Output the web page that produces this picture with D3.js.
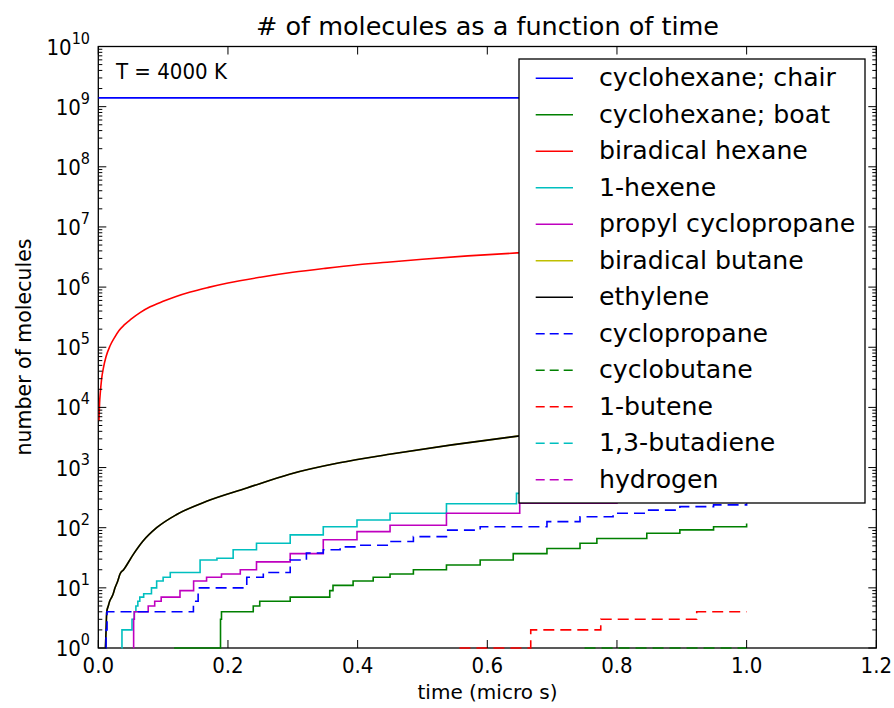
<!DOCTYPE html>
<html><head><meta charset="utf-8">
<script src="https://cdn.jsdelivr.net/npm/d3@7"></script>
<style>
html,body{margin:0;padding:0;background:#fff;}
text{font-family:"DejaVu Sans",sans-serif;fill:#000;}
.cond{font-family:"DejaVu Sans Condensed","DejaVu Sans",sans-serif;font-stretch:condensed;}
</style></head><body>
<svg id="chart" width="894" height="708"></svg>
<script>
// ---------------- data ----------------
const chartTitle = "# of molecules as a function of time";
const xLabel = "time (micro s)";
const yLabel = "number of molecules";
const annotation = "T = 4000 K";
const xTickValues = [0.0, 0.2, 0.4, 0.6, 0.8, 1.0, 1.2];
const yExponents = [0,1,2,3,4,5,6,7,8,9,10];

const seriesNames = ["cyclohexane; chair","cyclohexane; boat","biradical hexane","1-hexene",
  "propyl cyclopropane","biradical butane","ethylene","cyclopropane","cyclobutane",
  "1-butene","1,3-butadiene","hydrogen"];
const seriesColors = ["#0000ff","#008000","#ff0000","#00bfbf","#bf00bf","#bfbf00","#000000",
  "#0000ff","#008000","#ff0000","#00bfbf","#bf00bf"];
const seriesDashed = [false,false,false,false,false,false,false,true,true,true,true,true];
const seriesStep = [true,true,false,true,true,false,false,true,true,true,true,true];

// [time (micro s), number of molecules]
const chairData = [[0,1.4e9],[1.0,1.4e9]];
const boatData = [[0.117,1],[0.1885,3],[0.19,4],[0.239,5],[0.249,6],[0.296,7],[0.357,9],[0.362,11],
  [0.393,13],[0.424,15],[0.45,17],[0.486,20],[0.537,24],[0.589,29],[0.64,37],[0.692,45],
  [0.743,55],[0.769,66],[0.846,81],[0.897,92],[0.949,104],[1.0,118]];
const biradHexaneData = [[0.001,6000],[0.002,1.2e4],[0.003,1.7e4],[0.005,2.9e4],[0.008,4.6e4],
  [0.012,7e4],[0.018,1.05e5],[0.025,1.45e5],[0.032,1.9e5],[0.04,2.35e5],[0.05,2.9e5],
  [0.065,3.8e5],[0.08,4.7e5],[0.1,5.8e5],[0.12,7e5],[0.142,8.3e5],[0.17,9.9e5],[0.2,1.17e6],
  [0.25,1.46e6],[0.3,1.76e6],[0.35,2.05e6],[0.4,2.35e6],[0.45,2.62e6],[0.5,2.9e6],
  [0.57,3.3e6],[0.646,3.7e6],[0.8,4.6e6],[1.0,5.8e6]];
const hexeneData = [[0.036,1],[0.0365,2],[0.052,3],[0.0555,4],[0.058,5],[0.061,6],[0.064,7],
  [0.07,8],[0.082,10],[0.09,13],[0.1,15],[0.111,18],[0.157,29],[0.183,31],[0.208,43],
  [0.244,55],[0.296,76],[0.347,104],[0.399,134],[0.45,174],[0.537,250],[0.645,372],
  [0.8,560],[1.0,800]];
const propylData = [[0.054,1],[0.0545,3],[0.0555,4],[0.077,5],[0.087,6],[0.097,7],[0.126,9],
  [0.147,13],[0.167,15],[0.19,17],[0.219,20],[0.244,27],[0.296,37],[0.347,63],[0.399,86],
  [0.45,110],[0.537,174],[0.65,255],[0.8,380],[1.0,550]];
const ethyleneData = [[0.011,1],[0.012,2],[0.013,4],[0.0154,5],[0.0175,6],[0.0207,7],[0.023,8],
  [0.0258,10],[0.03,13],[0.0335,17],[0.039,20],[0.054,36],[0.069,60],[0.09,100],[0.121,166],
  [0.167,275],[0.229,457],[0.295,776],[0.372,1200],[0.449,1660],[0.644,3300],[0.8,5000],[1.0,7500]];
const biradButaneData = ethyleneData.map(d => [d[0], d[1]]);
const cyclopropaneData = [[0.0115,1],[0.012,2],[0.0135,4],[0.1467,6],[0.154,10],[0.229,15],
  [0.2545,18],[0.296,29],[0.321,38],[0.347,43],[0.373,48],[0.399,51],[0.45,59],[0.486,71],
  [0.537,91],[0.589,104],[0.64,104],[0.692,126],[0.743,152],[0.794,174],[0.846,196],
  [0.897,224],[0.949,240],[1.0,255]];
const cyclobutaneData = [[0.75,1],[1.0,1]];
const buteneData = [[0.557,1],[0.667,2],[0.775,3],[0.923,4],[1.0,4]];
const butadieneData = [];
const hydrogenData = [];

const allSeries = [chairData,boatData,biradHexaneData,hexeneData,propylData,biradButaneData,
  ethyleneData,cyclopropaneData,cyclobutaneData,buteneData,butadieneData,hydrogenData];

// ---------------- drawing ----------------
const svg = d3.select("#chart");
const L = 98.3, R = 876.3, T = 46.5, B = 648;
const x = d3.scaleLinear().domain([0, 1.2]).range([L, R]);
const y = d3.scaleLog().domain([1, 1e10]).range([B, T]);

svg.append("defs").append("clipPath").attr("id","clip")
  .append("rect").attr("x",L).attr("y",T).attr("width",R-L).attr("height",B-T+1);

// frame
svg.append("rect").attr("x",L).attr("y",T).attr("width",R-L).attr("height",B-T)
  .attr("fill","none").attr("stroke","#000").attr("stroke-width",1.3);

const plot = svg.append("g").attr("clip-path","url(#clip)");
allSeries.forEach((data,i) => {
  if (!data.length) return;
  const line = d3.line().x(d => x(d[0])).y(d => y(d[1]))
    .curve(seriesStep[i] ? d3.curveStepAfter : d3.curveMonotoneX);
  plot.append("path").datum(data).attr("d", line)
    .attr("fill","none").attr("stroke", seriesColors[i]).attr("stroke-width",1.6)
    .attr("stroke-dasharray", seriesDashed[i] ? "11,6" : null);
});

// ticks
const majorY = yExponents.map(e => Math.pow(10, e));
const minorY = [];
yExponents.slice(0,-1).forEach(e => { for (let k=2;k<10;k++) minorY.push(k*Math.pow(10,e)); });
const tg = svg.append("g").attr("stroke","#000").attr("stroke-width",1);
majorY.forEach(v => {
  tg.append("line").attr("x1",L).attr("x2",L+8).attr("y1",y(v)).attr("y2",y(v));
  tg.append("line").attr("x1",R).attr("x2",R-8).attr("y1",y(v)).attr("y2",y(v));
});
minorY.forEach(v => {
  tg.append("line").attr("x1",L).attr("x2",L+4).attr("y1",y(v)).attr("y2",y(v));
  tg.append("line").attr("x1",R).attr("x2",R-4).attr("y1",y(v)).attr("y2",y(v));
});
xTickValues.forEach(v => {
  tg.append("line").attr("x1",x(v)).attr("x2",x(v)).attr("y1",B).attr("y2",B-8);
  tg.append("line").attr("x1",x(v)).attr("x2",x(v)).attr("y1",T).attr("y2",T+8);
});

// tick labels
xTickValues.forEach(v => {
  svg.append("text").attr("class","cond").attr("x",x(v)).attr("y",673)
    .attr("text-anchor","middle").attr("font-size",22).text(v.toFixed(1));
});
yExponents.forEach(e => {
  const t = svg.append("text").attr("class","cond").attr("x",90).attr("y",y(Math.pow(10,e))+8)
    .attr("text-anchor","end").attr("font-size",22);
  t.append("tspan").text("10");
  t.append("tspan").attr("dy",-11).attr("font-size",16).text(String(e));
});

// labels
svg.append("text").attr("x",487.5).attr("y",35).attr("text-anchor","middle")
  .attr("font-size",25.5).text(chartTitle);
svg.append("text").attr("x",487.5).attr("y",699).attr("text-anchor","middle")
  .attr("font-size",20).text(xLabel);
svg.append("text").attr("transform","translate(31,347) rotate(-90)").attr("text-anchor","middle")
  .attr("font-size",20.5).text(yLabel);
svg.append("text").attr("class","cond").attr("x",116).attr("y",79)
  .attr("font-size",22).text(annotation);

// legend
const lg = svg.append("g");
lg.append("rect").attr("x",519).attr("y",59).attr("width",346).attr("height",444)
  .attr("fill","#fff").attr("stroke","#000").attr("stroke-width",1.3);
seriesNames.forEach((name,i) => {
  const cy = 78.3 + i*36.5;
  lg.append("line").attr("x1",535.7).attr("x2",573).attr("y1",cy).attr("y2",cy)
    .attr("stroke",seriesColors[i]).attr("stroke-width",1.6)
    .attr("stroke-dasharray", seriesDashed[i] ? "9,5" : null);
  lg.append("text").attr("x",599).attr("y",cy+8).attr("font-size",25.2).text(name);
});
</script>
</body></html>
